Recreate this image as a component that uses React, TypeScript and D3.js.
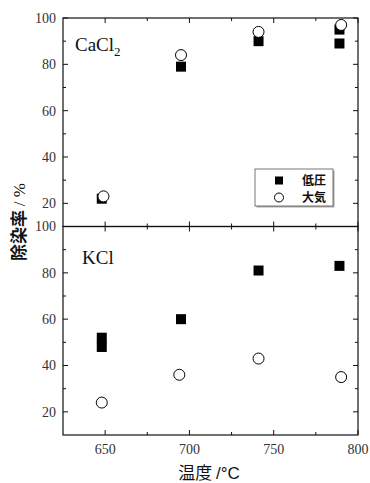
import React, {useEffect, useRef} from 'react'
import * as d3 from 'd3'

const width = 370
const height = 483
const margin = {top: 18, right: 12, bottom: 48, left: 63}

// temperatures (°C) and removal rates (%)
const caLowX = [648, 695, 741, 789, 789]
const caLowY = [22, 79, 90, 95, 89]
const caAirX = [649, 695, 741, 790]
const caAirY = [23, 84, 94, 97]

const kLowX = [648, 648, 695, 741, 789]
const kLowY = [52, 48, 60, 81, 83]
const kAirX = [648, 694, 741, 790]
const kAirY = [24, 36, 43, 35]

const xTicks = [650, 700, 750, 800]
const xMinor = [675, 725, 775]
const yTicks = [20, 40, 60, 80, 100]
const yMinor = [30, 50, 70, 90]
const legendLabels = ['低圧', '大気']

const App = () => {
  const ref = useRef<SVGSVGElement>(null)

  useEffect(() => {
    const svg = d3.select(ref.current)
    svg.selectAll('*').remove()

    const innerW = width - margin.left - margin.right
    const totalH = height - margin.top - margin.bottom
    const panelH = totalH / 2

    const x = d3.scaleLinear().domain([625, 800]).range([margin.left, margin.left + innerW])
    const ink = '#111'
    const serif = '"Liberation Serif", "Times New Roman", serif'
    const sans = '"Noto Sans CJK JP", sans-serif'

    const drawPanel = (top: number, lowX: number[], lowY: number[], airX: number[], airY: number[], showX: boolean) => {
      const y = d3.scaleLinear().domain([10, 100]).range([top + panelH, top])
      const g = svg.append('g')
      const left = x.range()[0]
      const right = x.range()[1]
      const yTop = y.range()[1]
      const yBot = y.range()[0]

      // ticks point inward on all four sides
      const tk = g.append('g').attr('stroke', ink).attr('stroke-width', 1)
      const yt = (v: number, len: number) => {
        tk.append('line').attr('x1', left).attr('x2', left + len).attr('y1', y(v)).attr('y2', y(v))
        tk.append('line').attr('x1', right).attr('x2', right - len).attr('y1', y(v)).attr('y2', y(v))
      }
      const xt = (v: number, len: number) => {
        tk.append('line').attr('x1', x(v)).attr('x2', x(v)).attr('y1', yTop).attr('y2', yTop + len)
        tk.append('line').attr('x1', x(v)).attr('x2', x(v)).attr('y1', yBot).attr('y2', yBot - len)
      }
      yTicks.forEach(v => yt(v, 5))
      yMinor.forEach(v => yt(v, 3))
      xTicks.forEach(v => xt(v, 5))
      xMinor.forEach(v => xt(v, 3))

      g.append('rect')
        .attr('x', left).attr('y', yTop)
        .attr('width', right - left).attr('height', yBot - yTop)
        .attr('fill', 'none').attr('stroke', ink).attr('stroke-width', 1.2)

      g.selectAll('text.yl')
        .data(yTicks)
        .enter()
        .append('text')
        .attr('x', left - 7)
        .attr('y', d => y(d))
        .attr('dy', '0.35em')
        .attr('text-anchor', 'end')
        .style('font-family', serif)
        .style('font-size', '14px')
        .attr('fill', '#333')
        .text(d => d)

      if (showX) {
        g.selectAll('text.xl')
          .data(xTicks)
          .enter()
          .append('text')
          .attr('x', d => x(d))
          .attr('y', yBot + 19)
          .attr('text-anchor', 'middle')
          .style('font-family', serif)
          .style('font-size', '14px')
          .attr('fill', '#333')
          .text(d => d)
      }

      const s = 10
      g.selectAll('rect.low')
        .data(lowX)
        .enter()
        .append('rect')
        .attr('x', d => x(d) - s / 2)
        .attr('y', (d, i) => y(lowY[i]) - s / 2)
        .attr('width', s)
        .attr('height', s)
        .attr('fill', '#000')

      g.selectAll('circle.air')
        .data(airX)
        .enter()
        .append('circle')
        .attr('cx', d => x(d))
        .attr('cy', (d, i) => y(airY[i]))
        .attr('r', 5.5)
        .attr('fill', '#fff')
        .attr('stroke', '#000')
        .attr('stroke-width', 1)
    }

    drawPanel(margin.top, caLowX, caLowY, caAirX, caAirY, false)
    drawPanel(margin.top + panelH, kLowX, kLowY, kAirX, kAirY, true)

    // panel labels
    const ca = svg.append('text')
      .attr('x', 75)
      .attr('y', 51)
      .style('font-family', serif)
      .style('font-size', '19px')
      .attr('fill', ink)
    ca.append('tspan').text('CaCl')
    ca.append('tspan').attr('dy', 5).style('font-size', '13px').text('2')

    svg.append('text')
      .attr('x', 82)
      .attr('y', 264)
      .style('font-family', serif)
      .style('font-size', '19px')
      .attr('fill', ink)
      .text('KCl')

    // legend
    const lx = 255
    const ly = 169
    const lg = svg.append('g')
    lg.append('rect').attr('x', lx + 1.5).attr('y', ly + 1.5).attr('width', 78).attr('height', 37).attr('fill', '#aaa')
    lg.append('rect').attr('x', lx).attr('y', ly).attr('width', 78).attr('height', 37)
      .attr('fill', '#fff').attr('stroke', '#555').attr('stroke-width', 0.8)
    lg.append('rect').attr('x', lx + 20).attr('y', ly + 7.5).attr('width', 8).attr('height', 8).attr('fill', '#000')
    lg.append('circle').attr('cx', lx + 24).attr('cy', ly + 28.5).attr('r', 4.5)
      .attr('fill', '#fff').attr('stroke', '#000').attr('stroke-width', 1)
    legendLabels.forEach((t, i) => {
      lg.append('text')
        .attr('x', lx + 47)
        .attr('y', ly + 11.5 + i * 17.5)
        .attr('dy', '0.36em')
        .style('font-family', sans)
        .style('font-weight', 'bold')
        .style('font-size', '12px')
        .attr('fill', ink)
        .text(t)
    })

    // axis titles
    const xtl = svg.append('text')
      .attr('x', 209)
      .attr('y', 479)
      .attr('text-anchor', 'middle')
      .style('font-family', sans)
      .style('font-size', '17px')
      .attr('fill', ink)
    xtl.append('tspan').text('温度 ')
    xtl.append('tspan').style('font-family', '"Liberation Sans", Arial, sans-serif').text('/°C')

    const ytl = svg.append('text')
      .attr('transform', 'translate(25, 222) rotate(-90)')
      .attr('text-anchor', 'middle')
      .style('font-size', '17px')
      .attr('fill', ink)
    ytl.append('tspan').style('font-family', sans).style('font-weight', 'bold').text('除染率 ')
    ytl.append('tspan').style('font-family', serif).text('/ %')
  }, [])

  return (
    <div style={{position: 'fixed', left: 0, top: 0, background: '#fff'}}>
      <svg ref={ref} width={width} height={height} style={{display: 'block'}}></svg>
    </div>
  )
}

export default App
